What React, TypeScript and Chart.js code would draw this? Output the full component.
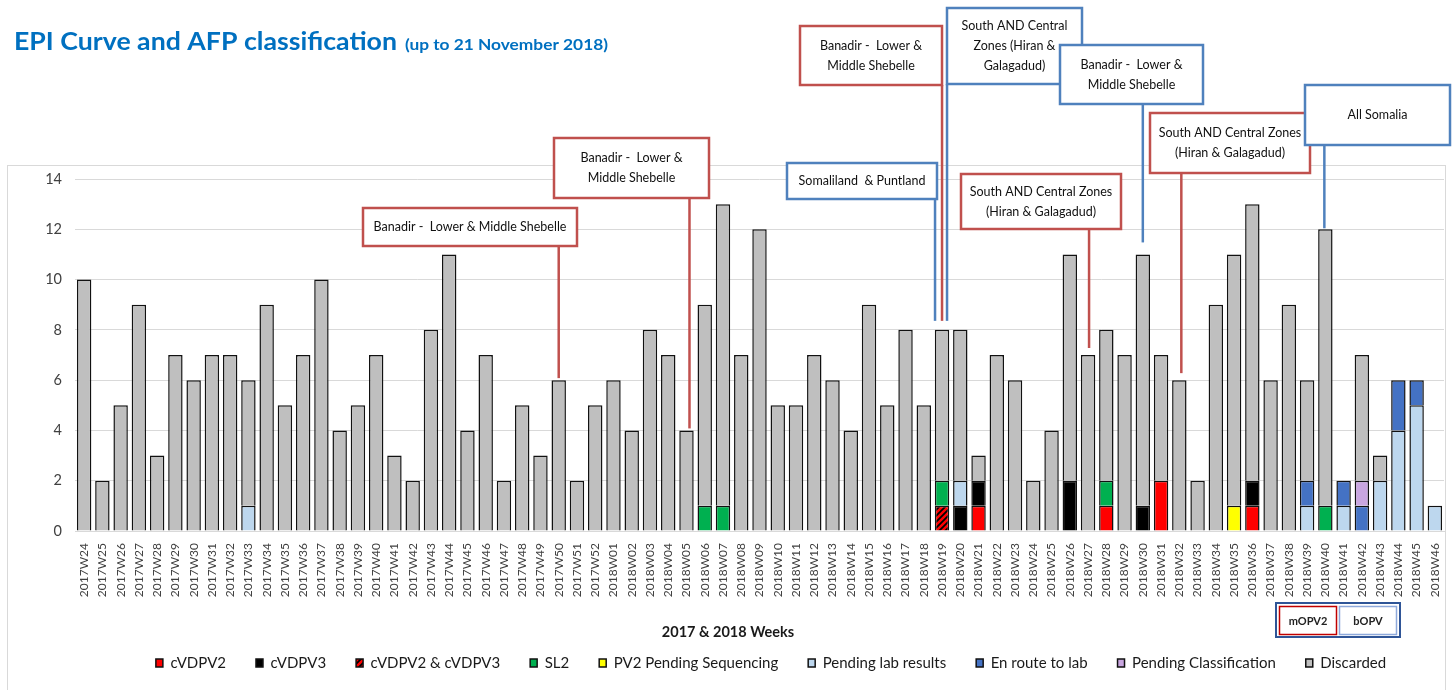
import React, { useEffect, useRef } from "react";
import { Chart, registerables } from "chart.js";

Chart.register(...registerables);

// ---------------- DATA ----------------
const weeks = [
  "2017W24", "2017W25", "2017W26", "2017W27", "2017W28", "2017W29", "2017W30", "2017W31", "2017W32", "2017W33",
  "2017W34", "2017W35", "2017W36", "2017W37", "2017W38", "2017W39", "2017W40", "2017W41", "2017W42", "2017W43",
  "2017W44", "2017W45", "2017W46", "2017W47", "2017W48", "2017W49", "2017W50", "2017W51", "2017W52",
  "2018W01", "2018W02", "2018W03", "2018W04", "2018W05", "2018W06", "2018W07", "2018W08", "2018W09", "2018W10",
  "2018W11", "2018W12", "2018W13", "2018W14", "2018W15", "2018W16", "2018W17", "2018W18", "2018W19", "2018W20",
  "2018W21", "2018W22", "2018W23", "2018W24", "2018W25", "2018W26", "2018W27", "2018W28", "2018W29", "2018W30",
  "2018W31", "2018W32", "2018W33", "2018W34", "2018W35", "2018W36", "2018W37", "2018W38", "2018W39", "2018W40",
  "2018W41", "2018W42", "2018W43", "2018W44", "2018W45", "2018W46",
];

const cVDPV2 = [
  0, 0, 0, 0, 0, 0, 0, 0, 0, 0,
  0, 0, 0, 0, 0, 0, 0, 0, 0, 0,
  0, 0, 0, 0, 0, 0, 0, 0, 0,
  0, 0, 0, 0, 0, 0, 0, 0, 0, 0,
  0, 0, 0, 0, 0, 0, 0, 0, 0, 0,
  1, 0, 0, 0, 0, 0, 0, 1, 0, 0,
  2, 0, 0, 0, 0, 1, 0, 0, 0, 0,
  0, 0, 0, 0, 0, 0,
];
const cVDPV3 = [
  0, 0, 0, 0, 0, 0, 0, 0, 0, 0,
  0, 0, 0, 0, 0, 0, 0, 0, 0, 0,
  0, 0, 0, 0, 0, 0, 0, 0, 0,
  0, 0, 0, 0, 0, 0, 0, 0, 0, 0,
  0, 0, 0, 0, 0, 0, 0, 0, 0, 1,
  1, 0, 0, 0, 0, 2, 0, 0, 0, 1,
  0, 0, 0, 0, 0, 1, 0, 0, 0, 0,
  0, 0, 0, 0, 0, 0,
];
const cVDPV2and3 = [
  0, 0, 0, 0, 0, 0, 0, 0, 0, 0,
  0, 0, 0, 0, 0, 0, 0, 0, 0, 0,
  0, 0, 0, 0, 0, 0, 0, 0, 0,
  0, 0, 0, 0, 0, 0, 0, 0, 0, 0,
  0, 0, 0, 0, 0, 0, 0, 0, 1, 0,
  0, 0, 0, 0, 0, 0, 0, 0, 0, 0,
  0, 0, 0, 0, 0, 0, 0, 0, 0, 0,
  0, 0, 0, 0, 0, 0,
];
const sl2 = [
  0, 0, 0, 0, 0, 0, 0, 0, 0, 0,
  0, 0, 0, 0, 0, 0, 0, 0, 0, 0,
  0, 0, 0, 0, 0, 0, 0, 0, 0,
  0, 0, 0, 0, 0, 1, 1, 0, 0, 0,
  0, 0, 0, 0, 0, 0, 0, 0, 1, 0,
  0, 0, 0, 0, 0, 0, 0, 1, 0, 0,
  0, 0, 0, 0, 0, 0, 0, 0, 0, 1,
  0, 0, 0, 0, 0, 0,
];
const pv2Pending = [
  0, 0, 0, 0, 0, 0, 0, 0, 0, 0,
  0, 0, 0, 0, 0, 0, 0, 0, 0, 0,
  0, 0, 0, 0, 0, 0, 0, 0, 0,
  0, 0, 0, 0, 0, 0, 0, 0, 0, 0,
  0, 0, 0, 0, 0, 0, 0, 0, 0, 0,
  0, 0, 0, 0, 0, 0, 0, 0, 0, 0,
  0, 0, 0, 0, 1, 0, 0, 0, 0, 0,
  0, 0, 0, 0, 0, 0,
];
const pendingLab = [
  0, 0, 0, 0, 0, 0, 0, 0, 0, 1,
  0, 0, 0, 0, 0, 0, 0, 0, 0, 0,
  0, 0, 0, 0, 0, 0, 0, 0, 0,
  0, 0, 0, 0, 0, 0, 0, 0, 0, 0,
  0, 0, 0, 0, 0, 0, 0, 0, 0, 1,
  0, 0, 0, 0, 0, 0, 0, 0, 0, 0,
  0, 0, 0, 0, 0, 0, 0, 0, 1, 0,
  1, 0, 2, 4, 5, 1,
];
const enRoute = [
  0, 0, 0, 0, 0, 0, 0, 0, 0, 0,
  0, 0, 0, 0, 0, 0, 0, 0, 0, 0,
  0, 0, 0, 0, 0, 0, 0, 0, 0,
  0, 0, 0, 0, 0, 0, 0, 0, 0, 0,
  0, 0, 0, 0, 0, 0, 0, 0, 0, 0,
  0, 0, 0, 0, 0, 0, 0, 0, 0, 0,
  0, 0, 0, 0, 0, 0, 0, 0, 1, 0,
  1, 1, 0, 2, 1, 0,
];
const pendingClass = [
  0, 0, 0, 0, 0, 0, 0, 0, 0, 0,
  0, 0, 0, 0, 0, 0, 0, 0, 0, 0,
  0, 0, 0, 0, 0, 0, 0, 0, 0,
  0, 0, 0, 0, 0, 0, 0, 0, 0, 0,
  0, 0, 0, 0, 0, 0, 0, 0, 0, 0,
  0, 0, 0, 0, 0, 0, 0, 0, 0, 0,
  0, 0, 0, 0, 0, 0, 0, 0, 0, 0,
  0, 1, 0, 0, 0, 0,
];
const discarded = [
  10, 2, 5, 9, 3, 7, 6, 7, 7, 5,
  9, 5, 7, 10, 4, 5, 7, 3, 2, 8,
  11, 4, 7, 2, 5, 3, 6, 2, 5,
  6, 4, 8, 7, 4, 8, 12, 7, 12, 5,
  5, 7, 6, 4, 9, 5, 8, 5, 6, 6,
  1, 7, 6, 2, 4, 9, 7, 6, 7, 10,
  5, 6, 2, 9, 10, 11, 6, 9, 4, 11,
  0, 5, 1, 0, 0, 0,
];

const seriesNames = [
  "cVDPV2", "cVDPV3", "cVDPV2 & cVDPV3", "SL2", "PV2 Pending Sequencing",
  "Pending lab results", "En route to lab", "Pending Classification", "Discarded",
];

// campaign callouts: target week, campaign type, text
const calloutWeeks = ["2017W50", "2018W05", "2018W19", "2018W19", "2018W19", "2018W30", "2018W27", "2018W32", "2018W40"];
const calloutCampaigns = ["mOPV2", "mOPV2", "bOPV", "mOPV2", "bOPV", "bOPV", "mOPV2", "mOPV2", "bOPV"];
const calloutTexts = [
  ["Banadir -  Lower & Middle Shebelle"],
  ["Banadir -  Lower &", "Middle Shebelle"],
  ["Somaliland  & Puntland"],
  ["Banadir -  Lower &", "Middle Shebelle"],
  ["South AND Central", "Zones (Hiran &", "Galagadud)"],
  ["Banadir -  Lower &", "Middle Shebelle"],
  ["South AND Central Zones", "(Hiran & Galagadud)"],
  ["South AND Central Zones", "(Hiran & Galagadud)"],
  ["All Somalia"],
];

const titleText = "EPI Curve and AFP classification";
const subtitleText = "(up to 21 November 2018)";
const xAxisTitle = "2017 & 2018 Weeks";
const campaignKey = ["mOPV2", "bOPV"];

// ---------------- LAYOUT / STYLE ----------------
const FONT = "Lato";
const seriesColors = ["#FF0000", "#000000", "HATCH", "#00B050", "#FFFF00", "#BDD7EE", "#4472C4", "#C9A6E0", "#BFBFBF"];
const campaignColors: Record<string, string> = { mOPV2: "#C0504D", bOPV: "#4F81BD" };
const calloutBoxes = [
  { x: 363, y: 208, w: 214, h: 38, dx: 0, gap: 2 },
  { x: 554, y: 138, w: 155, h: 60, dx: 3, gap: 2 },
  { x: 787, y: 163, w: 150, h: 36, dx: -7, gap: 9 },
  { x: 800, y: 26, w: 142, h: 59, dx: 0, gap: 9 },
  { x: 947, y: 8, w: 135, h: 76, dx: 5, gap: 9 },
  { x: 1060, y: 45, w: 143, h: 59, dx: 0, gap: 12 },
  { x: 961, y: 174, w: 160, h: 55, dx: 1, gap: 7 },
  { x: 1150, y: 113, w: 160, h: 60, dx: 2, gap: 7 },
  { x: 1305, y: 85, w: 145, h: 60, dx: -1, gap: 1 },
];

function makeHatch(ctx: CanvasRenderingContext2D) {
  const c = document.createElement("canvas");
  c.width = 6;
  c.height = 6;
  const g = c.getContext("2d")!;
  g.fillStyle = "#FF0000";
  g.fillRect(0, 0, 6, 6);
  g.strokeStyle = "#000000";
  g.lineWidth = 1.8;
  g.beginPath();
  g.moveTo(-1, 7); g.lineTo(7, -1);
  g.moveTo(-4, 4); g.lineTo(4, -4);
  g.moveTo(2, 10); g.lineTo(10, 2);
  g.stroke();
  return ctx.createPattern(c, "repeat")!;
}

function fitText(ctx: CanvasRenderingContext2D, text: string, x: number, y: number, target: number) {
  const w = ctx.measureText(text).width;
  ctx.save();
  ctx.translate(x, y);
  ctx.scale(target / w, 1);
  ctx.fillText(text, 0, 0);
  ctx.restore();
}

const decorPlugin = {
  id: "decor",
  afterLayout(chart: any) {
    const L = chart.legend;
    if (!L) return;
    const pad = L.options.labels.padding;
    const fs = L.options.labels.font.size;
    const dx = 771 - (L.left + L.right) / 2;
    const dy = 663 - (L.top + pad + fs / 2);
    L.left += dx; L.right += dx;
    L.top += dy; L.bottom += dy;
  },
  beforeDraw(chart: any) {
    const c = chart.ctx;
    c.save();
    c.fillStyle = "#ffffff";
    c.fillRect(0, 0, chart.width, chart.height);
    c.strokeStyle = "#d9d9d9";
    c.lineWidth = 1;
    c.strokeRect(7.5, 165.5, 1438, 600);
    c.restore();
  },
  afterDraw(chart: any) {
    const c: CanvasRenderingContext2D = chart.ctx;
    const xs = chart.scales.x;
    const ys = chart.scales.y;
    c.save();
    // Title
    c.fillStyle = "#0070C0";
    c.textBaseline = "alphabetic";
    c.textAlign = "left";
    c.font = `bold 25px ${FONT}`;
    fitText(c, titleText, 14, 50, 383);
    c.font = `bold 15px ${FONT}`;
    fitText(c, subtitleText, 405, 50, 203);

    // X axis title
    c.fillStyle = "#1a1a1a";
    c.font = `bold 14.5px ${FONT}`;
    c.textAlign = "center";
    c.textBaseline = "middle";
    c.fillText(xAxisTitle, 728, 632);

    // Callouts
    calloutWeeks.forEach((wk, i) => {
      const b = calloutBoxes[i];
      const idx = weeks.indexOf(wk);
      let total = 0;
      chart.data.datasets.forEach((ds: any) => { total += ds.data[idx] || 0; });
      const col = campaignColors[calloutCampaigns[i]];
      const lx = xs.getPixelForValue(idx) + b.dx;
      const ly = ys.getPixelForValue(total) - b.gap;
      c.strokeStyle = col;
      c.lineWidth = 2.5;
      c.beginPath();
      c.moveTo(lx, b.y + b.h);
      c.lineTo(lx, ly);
      c.stroke();
      c.fillStyle = "#ffffff";
      c.fillRect(b.x, b.y, b.w, b.h);
      c.strokeRect(b.x, b.y, b.w, b.h);
      c.fillStyle = "#111111";
      c.font = `12.5px ${FONT}`;
      c.textAlign = "center";
      c.textBaseline = "middle";
      const lines = calloutTexts[i];
      const lh = 20;
      const cy = b.y + b.h / 2 - ((lines.length - 1) * lh) / 2;
      lines.forEach((t, k) => c.fillText(t, b.x + b.w / 2, cy + k * lh));
    });

    // Campaign key
    c.strokeStyle = "#2F5597";
    c.lineWidth = 2;
    c.strokeRect(1276, 603, 124, 34);
    c.strokeStyle = "#C00000";
    c.lineWidth = 1.5;
    c.strokeRect(1279.5, 606.5, 57, 28);
    c.strokeStyle = "#8EA9DB";
    c.strokeRect(1339.5, 606.5, 57, 28);
    c.fillStyle = "#222222";
    c.font = `bold 11px ${FONT}`;
    c.fillText(campaignKey[0], 1308, 621);
    c.fillText(campaignKey[1], 1368, 621);
    c.restore();
  },
};

export default function App() {
  const ref = useRef<HTMLCanvasElement>(null);
  useEffect(() => {
    const canvas = ref.current!;
    const ctx = canvas.getContext("2d")!;
    const hatch = makeHatch(ctx);
    const values = [cVDPV2, cVDPV3, cVDPV2and3, sl2, pv2Pending, pendingLab, enRoute, pendingClass, discarded];
    const datasets = values.map((v, i) => ({
      label: seriesNames[i],
      data: v,
      backgroundColor: seriesColors[i] === "HATCH" ? hatch : seriesColors[i],
      borderColor: "#111111",
      borderWidth: 1.5,
      categoryPercentage: 1,
      barPercentage: 0.79,
    }));
    const chart = new Chart(ctx, {
      type: "bar",
      data: { labels: weeks, datasets },
      options: {
        animation: false,
        responsive: false,
        maintainAspectRatio: false,
        layout: { padding: { left: 0, right: 10, top: 179, bottom: 0 } },
        scales: {
          x: {
            stacked: true,
            grid: { display: false },
            border: { display: true, color: "#d9d9d9", width: 1 },
            ticks: {
              autoSkip: false,
              maxRotation: 90,
              minRotation: 90,
              padding: 4,
              color: "#404040",
              font: { size: 12, family: FONT },
            },
            afterFit: (s: any) => { s.height = 104; },
          },
          y: {
            stacked: true,
            min: 0,
            max: 14,
            ticks: { stepSize: 2, padding: 13, color: "#404040", font: { size: 14.5, family: FONT } },
            grid: { color: "#d9d9d9", drawTicks: false },
            border: { display: false },
            afterFit: (s: any) => { s.width = 75; },
          },
        },
        plugins: {
          legend: {
            position: "bottom",
            labels: {
              boxWidth: 7,
              boxHeight: 8,
              padding: 30,
              color: "#1a1a1a",
              font: { size: 15, family: FONT },
            },
          },
          tooltip: { enabled: false },
        },
      } as any,
      plugins: [decorPlugin as any],
    });
    return () => chart.destroy();
  }, []);
  return (
    <div style={{ position: "fixed", left: 0, top: 0, width: 1454, height: 690, background: "#fff" }}>
      <canvas ref={ref} width={1454} height={690} style={{ display: "block", width: 1454, height: 690 }} />
    </div>
  );
}
